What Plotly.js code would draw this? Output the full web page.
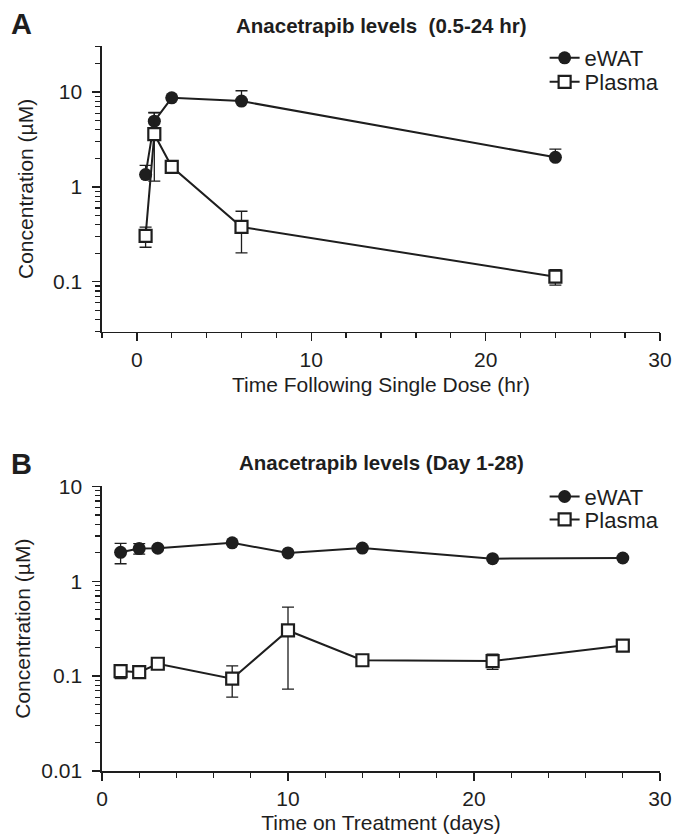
<!DOCTYPE html>
<html>
<head>
<meta charset="utf-8">
<script src="https://cdn.plot.ly/plotly-3.0.1.min.js"></script>
<style>html,body{margin:0;padding:0;background:#fff;}#chart{width:677px;height:834px;}</style>
</head>
<body>
<div id="chart"></div>
<script>
// ---- Panel A data (time following single dose, hr) ----
const hoursA = [0.5, 1, 2, 6, 24];
const ewatA = [1.35, 4.94, 8.7, 8.03, 2.05];
const ewatA_errUp = [0.34, 1.15, 0, 2.3, 0.45];
const ewatA_errDown = [0, 0, 0, 0, 0];
const plasmaA = [0.304, 3.6, 1.63, 0.378, 0.113];
const plasmaA_err = [0.073, 2.45, NaN, 0.176, 0.021];

// ---- Panel B data (time on treatment, days) ----
const daysB = [1, 2, 3, 7, 10, 14, 21, 28];
const ewatB = [2.02, 2.21, 2.23, 2.54, 1.99, 2.24, 1.73, 1.76];
const ewatB_err = [0.49, 0.28, NaN, NaN, NaN, NaN, NaN, NaN];
const plasmaB = [0.113, 0.110, 0.135, 0.094, 0.303, 0.147, 0.144, 0.210];
const plasmaB_err = [0.019, NaN, NaN, 0.034, 0.23, NaN, 0.026, NaN];

// ---- labels ----
const seriesNames = ["eWAT", "Plasma"];
const titleA = "Anacetrapib levels&nbsp;&nbsp;(0.5-24 hr)";
const titleB = "Anacetrapib levels (Day 1-28)";
const xTitleA = "Time Following Single Dose (hr)";
const xTitleB = "Time on Treatment (days)";
const yTitle = "Concentration (µM)";
const yTickValsA = [0.1, 1, 10];
const yTickTextA = ["0.1", "1", "10"];
const yTickValsB = [0.01, 0.1, 1, 10];
const yTickTextB = ["0.01", "0.1", "1", "10"];
const xTickVals = [0, 10, 20, 30];

const INK = "#1e1e1e";
const FONT = "Liberation Sans, Arial, Helvetica, sans-serif";
const FS = 21;

function minorLog(lo, hi) {
  const v = [];
  for (let d = lo; d <= hi; d++) {
    for (let k = 2; k <= 9; k++) v.push(k * Math.pow(10, d));
  }
  return v;
}

const lineStyle = {color: INK, width: 2};
const circle = {symbol: "circle", size: 13, color: INK, line: {width: 0}};
const square = {symbol: "square", size: 12, color: "#ffffff", line: {color: INK, width: 2.2}};
const errStyle = {color: INK, thickness: 1.3, width: 6};

const traces = [
  {x: hoursA, y: ewatA, name: seriesNames[0], type: "scatter", mode: "lines+markers",
   xaxis: "x", yaxis: "y", legend: "legend", line: lineStyle, marker: circle,
   error_y: Object.assign({type: "data", symmetric: false, array: ewatA_errUp, arrayminus: ewatA_errDown, visible: true}, errStyle)},
  {x: hoursA, y: plasmaA, name: seriesNames[1], type: "scatter", mode: "lines+markers",
   xaxis: "x", yaxis: "y", legend: "legend2", line: lineStyle, marker: square,
   error_y: Object.assign({type: "data", array: plasmaA_err, visible: true}, errStyle)},
  {x: daysB, y: ewatB, name: seriesNames[0], type: "scatter", mode: "lines+markers",
   xaxis: "x2", yaxis: "y2", legend: "legend3", line: lineStyle, marker: circle,
   error_y: Object.assign({type: "data", array: ewatB_err, visible: true}, errStyle)},
  {x: daysB, y: plasmaB, name: seriesNames[1], type: "scatter", mode: "lines+markers",
   xaxis: "x2", yaxis: "y2", legend: "legend4", line: lineStyle, marker: square,
   error_y: Object.assign({type: "data", array: plasmaB_err, visible: true}, errStyle)}
];

const axisCommon = {
  showline: true, linecolor: INK, linewidth: 1.6, showgrid: false, zeroline: false,
  ticks: "outside", ticklen: 8, tickwidth: 1.4, tickcolor: INK,
  tickfont: {family: FONT, size: FS, color: INK}
};

function xAxis(range, anchor, title) {
  return Object.assign({}, axisCommon, {
    range: range, anchor: anchor, tickmode: "array", tickvals: xTickVals,
    minor: {tick0: 0, dtick: 2, ticks: "outside", ticklen: 5, tickwidth: 1.3, tickcolor: INK, showgrid: false},
    title: {text: title, font: {family: FONT, size: FS, color: INK}, standoff: 7}
  });
}
function yAxis(range, domain, anchor, tv, tt, standoff) {
  return Object.assign({}, axisCommon, {
    type: "log", range: range, domain: domain, anchor: anchor,
    tickmode: "array", tickvals: tv, ticktext: tt, ticklabelstandoff: 6,
    minor: {tickmode: "array", tickvals: minorLog(-3, 1), ticks: "outside", ticklen: 5, tickwidth: 1.2, tickcolor: INK, showgrid: false},
    title: {text: yTitle, font: {family: FONT, size: FS, color: INK}, standoff: standoff}
  });
}

const H = 834, MT = 46, MB = 62.5, ML = 102, PW = 561;
const plotH = H - MT - MB;
function py(pix) { return (H - MB - pix) / plotH; }
function px(pix) { return (pix - ML) / PW; }

const legendCommon = {
  xref: "paper", yref: "paper", xanchor: "left", yanchor: "middle",
  bgcolor: "rgba(0,0,0,0)", borderwidth: 0,
  font: {family: FONT, size: 22, color: INK}, itemwidth: 30, tracegroupgap: 0
};

const layout = {
  width: 677, height: 834,
  margin: {l: ML, r: 14, t: MT, b: MB, pad: 0},
  paper_bgcolor: "#ffffff", plot_bgcolor: "#ffffff",
  font: {family: FONT, color: INK},
  showlegend: true,
  xaxis: xAxis([-2, 30], "y", xTitleA),
  yaxis: yAxis([-1.528, 1.486], [py(332), 1], "x", yTickValsA, yTickTextA, 13),
  xaxis2: xAxis([0, 30], "y2", xTitleB),
  yaxis2: yAxis([-2, 1], [0, py(486.7)], "x2", yTickValsB, yTickTextB, 5),
  legend: Object.assign({}, legendCommon, {x: px(547), y: py(58)}),
  legend2: Object.assign({}, legendCommon, {x: px(547), y: py(82)}),
  legend3: Object.assign({}, legendCommon, {x: px(547), y: py(497)}),
  legend4: Object.assign({}, legendCommon, {x: px(547), y: py(520)}),
  annotations: [
    {text: "<b>" + titleA + "</b>", xref: "paper", yref: "paper", x: 0.5, y: py(25),
     xanchor: "center", yanchor: "middle", showarrow: false, font: {family: FONT, size: 20.5, color: INK}},
    {text: "<b>" + titleB + "</b>", xref: "paper", yref: "paper", x: 0.5, y: py(463),
     xanchor: "center", yanchor: "middle", showarrow: false, font: {family: FONT, size: 20.5, color: INK}},
    {text: "<b>A</b>", xref: "paper", yref: "paper", x: px(9), y: py(24),
     xanchor: "left", yanchor: "middle", showarrow: false, font: {family: FONT, size: 29, color: INK}},
    {text: "<b>B</b>", xref: "paper", yref: "paper", x: px(9), y: py(464),
     xanchor: "left", yanchor: "middle", showarrow: false, font: {family: FONT, size: 29, color: INK}}
  ]
};

Plotly.newPlot("chart", traces, layout, {displayModeBar: false, staticPlot: true});
</script>
</body>
</html>
